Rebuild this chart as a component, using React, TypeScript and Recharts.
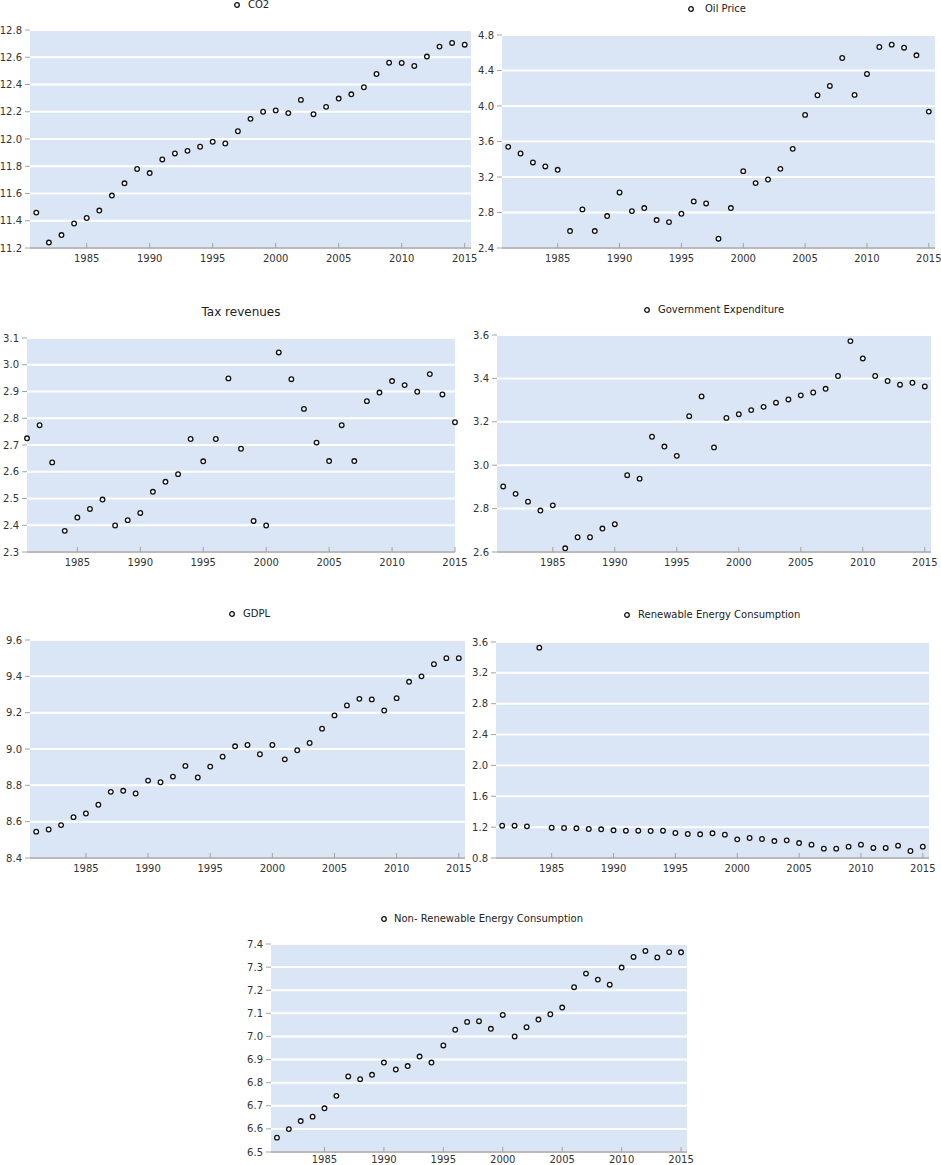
import React from "react"
import { ScatterChart, Scatter, XAxis, YAxis, CartesianGrid } from "recharts"

const years = [
  1981, 1982, 1983, 1984, 1985, 1986, 1987, 1988, 1989, 1990, 1991, 1992,
  1993, 1994, 1995, 1996, 1997, 1998, 1999, 2000, 2001, 2002, 2003, 2004,
  2005, 2006, 2007, 2008, 2009, 2010, 2011, 2012, 2013, 2014, 2015,
]

const yearTicks = [1985, 1990, 1995, 2000, 2005, 2010, 2015]

const co2 = [
  11.46, 11.24, 11.295, 11.38, 11.42, 11.475, 11.585, 11.675, 11.78, 11.75,
  11.85, 11.894, 11.913, 11.943, 11.98, 11.967, 12.057, 12.148, 12.2, 12.21,
  12.19, 12.287, 12.182, 12.236, 12.297, 12.328, 12.38, 12.477, 12.56, 12.558,
  12.536, 12.605, 12.678, 12.705, 12.692,
]
const co2Ticks = [11.2, 11.4, 11.6, 11.8, 12.0, 12.2, 12.4, 12.6, 12.8]

const oilPrice = [
  3.54, 3.465, 3.364, 3.319, 3.281, 2.591, 2.835, 2.591, 2.76, 3.026, 2.816,
  2.85, 2.715, 2.692, 2.786, 2.925, 2.902, 2.505, 2.85, 3.266, 3.131, 3.172,
  3.292, 3.517, 3.9, 4.121, 4.226, 4.541, 4.125, 4.361, 4.665, 4.691, 4.657,
  4.571, 3.937,
]
const oilTicks = [2.4, 2.8, 3.2, 3.6, 4.0, 4.4, 4.8]

const taxRevenues = [
  2.725, 2.774, 2.635, 2.379, 2.429, 2.461, 2.496, 2.399, 2.419, 2.446, 2.525,
  2.5625, 2.591, 2.7225, 2.639, 2.7225, 2.949, 2.686, 2.416, 2.399, 3.046,
  2.946, 2.835, 2.709, 2.64, 2.774, 2.64, 2.864, 2.896, 2.939, 2.924, 2.899,
  2.965, 2.889, 2.785,
]
const taxTicks = [2.3, 2.4, 2.5, 2.6, 2.7, 2.8, 2.9, 3.0, 3.1]

const govExpenditure = [
  2.902, 2.868, 2.832, 2.791, 2.815, 2.617, 2.668, 2.668, 2.708, 2.728, 2.954,
  2.938, 3.131, 3.086, 3.043, 3.226, 3.317, 3.082, 3.218, 3.235, 3.254, 3.269,
  3.288, 3.303, 3.322, 3.335, 3.352, 3.411, 3.572, 3.492, 3.411, 3.388, 3.371,
  3.38, 3.363,
]
const govTicks = [2.6, 2.8, 3.0, 3.2, 3.4, 3.6]

const gdpl = [
  8.545, 8.557, 8.581, 8.625, 8.645, 8.693, 8.764, 8.77, 8.755, 8.826, 8.817,
  8.848, 8.907, 8.843, 8.903, 8.958, 9.015, 9.022, 8.971, 9.022, 8.943, 8.993,
  9.033, 9.112, 9.185, 9.24, 9.276, 9.273, 9.212, 9.28, 9.37, 9.4, 9.467,
  9.5, 9.5,
]
const gdplTicks = [8.4, 8.6, 8.8, 9.0, 9.2, 9.4, 9.6]

const renewable = [
  1.219, 1.219, 1.21, 3.527, 1.193, 1.189, 1.185, 1.176, 1.172, 1.159, 1.154,
  1.154, 1.15, 1.154, 1.124, 1.111, 1.107, 1.12, 1.103, 1.042, 1.059, 1.046,
  1.02, 1.029, 0.994, 0.973, 0.921, 0.921, 0.947, 0.973, 0.93, 0.93, 0.96,
  0.891, 0.947,
]
const renewableTicks = [0.8, 1.2, 1.6, 2.0, 2.4, 2.8, 3.2, 3.6]

const nonRenewable = [
  6.562, 6.599, 6.634, 6.653, 6.689, 6.743, 6.827, 6.815, 6.834, 6.887, 6.857,
  6.872, 6.913, 6.887, 6.961, 7.029, 7.063, 7.066, 7.033, 7.093, 7.0, 7.04,
  7.073, 7.096, 7.125, 7.213, 7.272, 7.246, 7.224, 7.298, 7.344, 7.37, 7.342,
  7.365, 7.364,
]
const nonRenewableTicks = [6.5, 6.6, 6.7, 6.8, 6.9, 7.0, 7.1, 7.2, 7.3, 7.4]

const FONT = "Verdana, 'DejaVu Sans', sans-serif"
const PLOT_BG = "#dae6f6"
const AXIS_GREY = "#a3a3a3"
const YW = 40
const XH = 22
const RIGHT_PAD = 20

const toRows = (values: number[]) => years.map((year, i) => ({ year, value: values[i] }))

const Dot = (props: any) => {
  if (props.cx == null || props.cy == null) return null
  return <circle cx={props.cx} cy={props.cy} r={2.3} fill="#fff" stroke="#111" strokeWidth={1.3} />
}

const XTick = (props: any) => {
  const { x, y, payload, gap } = props
  return (
    <g>
      <line x1={x} x2={x} y1={y} y2={y - 5} stroke={AXIS_GREY} strokeWidth={1} />
      <text x={x} y={y + gap} dy="0.35em" textAnchor="middle" fontSize={10} fontFamily={FONT} fill="#333">
        {payload.value}
      </text>
    </g>
  )
}

interface PanelProps {
  name: string
  values: number[]
  ticks: number[]
  xDomain?: [number, number]
  left: number
  right: number
  top: number
  bottom: number
  markerX?: number
  textX: number
  labelY: number
  title?: boolean
  tickGap?: number
}

function Panel({ name, values, ticks, xDomain = [1980.5, 2015.5], left, right, top, bottom, markerX, textX, labelY, title, tickGap = 10 }: PanelProps) {
  const width = right - left + YW + RIGHT_PAD
  const height = bottom - top + 5 + XH
  return (
    <>
      {title ? (
        <div
          style={{
            position: "absolute",
            left: textX - 100,
            width: 200,
            top: labelY - 8,
            textAlign: "center",
            fontFamily: FONT,
            fontSize: 12,
            color: "#222",
            lineHeight: "16px",
          }}
        >
          {name}
        </div>
      ) : (
        <>
          <svg style={{ position: "absolute", left: (markerX ?? 0) - 4, top: labelY - 4 }} width={8} height={8}>
            <circle cx={4} cy={4} r={2.3} fill="#fff" stroke="#111" strokeWidth={1.3} />
          </svg>
          <div
            style={{
              position: "absolute",
              left: textX,
              top: labelY - 7,
              fontFamily: FONT,
              fontSize: 10,
              color: "#222",
              lineHeight: "14px",
              whiteSpace: "nowrap",
            }}
          >
            {name}
          </div>
        </>
      )}
      <div style={{ position: "absolute", left: left - YW, top: top - 5 }}>
        <ScatterChart width={width} height={height} margin={{ top: 5, right: RIGHT_PAD, bottom: 0, left: 0 }}>
          <CartesianGrid vertical={false} fill={PLOT_BG} stroke="#fff" strokeWidth={2} />
          <XAxis
            dataKey="year"
            type="number"
            domain={xDomain}
            ticks={yearTicks}
            height={XH}
            tickLine={false}
            tickSize={0}
            tickMargin={0}
            axisLine={{ stroke: AXIS_GREY, strokeWidth: 1.5 }}
            tick={<XTick gap={tickGap} />}
            interval={0}
          />
          <YAxis
            dataKey="value"
            type="number"
            domain={[ticks[0], ticks[ticks.length - 1]]}
            ticks={ticks}
            width={YW}
            axisLine={false}
            tickLine={{ stroke: AXIS_GREY }}
            tickSize={5}
            tickMargin={3}
            interval={0}
            tickFormatter={(v: number) => v.toFixed(1)}
            tick={{ fontSize: 10, fontFamily: FONT, fill: "#333" }}
          />
          <Scatter data={toRows(values)} shape={<Dot />} isAnimationActive={false} />
        </ScatterChart>
      </div>
    </>
  )
}

export default function App() {
  return (
    <div style={{ position: "absolute", left: 0, top: 0, width: 941, height: 1165, background: "#fff", overflow: "hidden" }}>
      <Panel name="CO2" values={co2} ticks={co2Ticks} left={30} right={471} top={30} bottom={248} markerX={237} textX={248} labelY={5} />
      <Panel name="Oil Price" values={oilPrice} ticks={oilTicks} left={502} right={935} top={35} bottom={248} markerX={691} textX={705} labelY={9} />
      <Panel name="Tax revenues" values={taxRevenues} ticks={taxTicks} xDomain={[1981, 2015]} left={27} right={455} top={338} bottom={552} textX={241} labelY={312} title />
      <Panel name="Government Expenditure" values={govExpenditure} ticks={govTicks} left={497} right={931} top={335} bottom={552} markerX={647} textX={658} labelY={310} />
      <Panel name="GDPL" values={gdpl} ticks={gdplTicks} left={30} right={465} top={640} bottom={858} markerX={232} textX={243} labelY={614} />
      <Panel name="Renewable Energy Consumption" values={renewable} ticks={renewableTicks} left={496} right={929} top={642} bottom={858} markerX={627} textX={638} labelY={615} />
      <Panel name="Non- Renewable Energy Consumption" values={nonRenewable} ticks={nonRenewableTicks} left={271} right={687} top={944} bottom={1152} markerX={384} textX={394} labelY={919} tickGap={7} />
    </div>
  )
}
